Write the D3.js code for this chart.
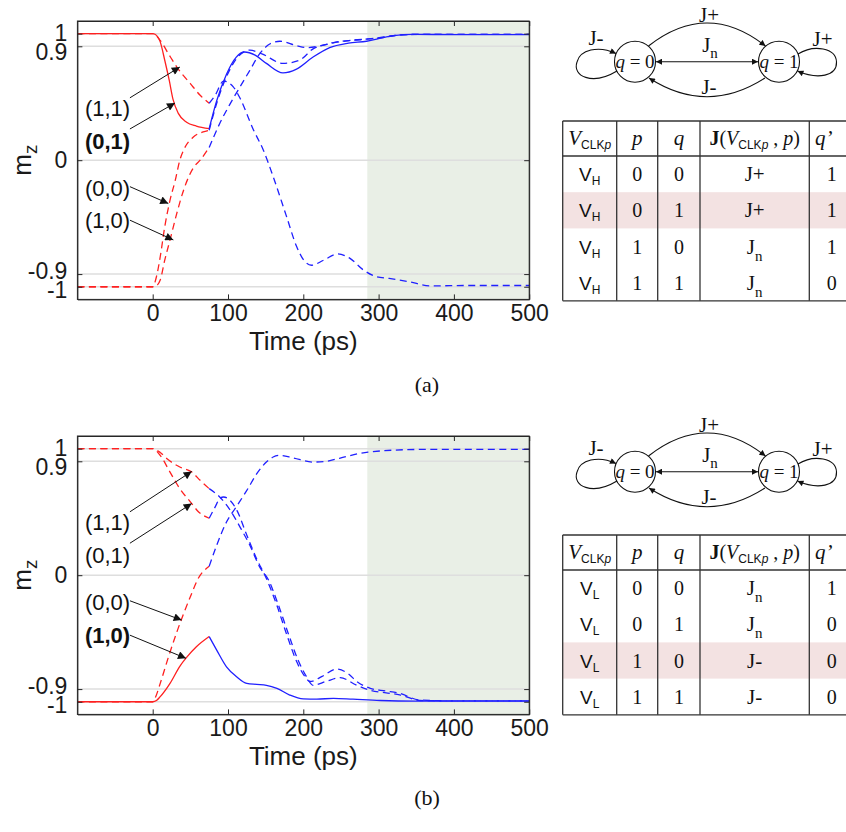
<!DOCTYPE html>
<html><head><meta charset="utf-8">
<script src="https://cdn.jsdelivr.net/npm/d3@7"></script>
<style>html,body{margin:0;padding:0;background:#fff}</style>
</head><body>
<svg id="fig" width="846" height="832"></svg>
<script>
// ---------------- DATA ----------------
const xTicks = [0, 100, 200, 300, 400, 500];
const yTicks = [-1, -0.9, 0, 0.9, 1];
const yTickLabels = ["-1", "-0.9", "0", "0.9", "1"];
const xDomain = [-100, 500];
const yDomain = [-1.1, 1.1];
const shadeStart = 285;

// Panel (a): [time ps, m_z]; red part before 75 ps, blue part after
const a01Red = [[-100,1],[0,1],[3,0.995],[10,0.935],[16,0.79],[22,0.63],[27,0.48],[34,0.37],[45,0.30],[58,0.27],[75,0.25]];
const a01Blue = [[75,0.25],[85,0.47],[98,0.68],[111,0.815],[122,0.855],[136,0.83],[151,0.765],[173,0.69],[191,0.72],[213,0.815],[235,0.89],[260,0.925],[284,0.94],[300,0.96],[320,0.984],[346,0.994],[400,0.993],[500,0.993]];
const a11Red = [[-100,1],[0,1],[10,0.947],[21,0.84],[32,0.736],[50,0.605],[63,0.513],[75,0.45]];
const a11Blue = [[75,0.45],[83,0.513],[94,0.625],[107,0.58],[116,0.49],[134,0.237],[147,0.079],[160,-0.13],[178,-0.45],[191,-0.68],[202,-0.80],[211,-0.83],[227,-0.79],[246,-0.74],[262,-0.776],[280,-0.868],[297,-0.92],[314,-0.934],[340,-0.96],[369,-0.993],[420,-0.99],[500,-0.99]];
const a00Red = [[-100,-1],[0,-1],[5,-0.92],[10,-0.763],[16,-0.526],[23,-0.316],[30,-0.158],[36,0],[41,0.079],[54,0.184],[67,0.223],[75,0.237]];
const a00Blue = [[75,0.237],[85,0.45],[98,0.66],[111,0.80],[129,0.87],[145,0.84],[173,0.765],[195,0.79],[213,0.88],[235,0.92],[260,0.945],[290,0.96],[330,0.99],[360,0.995],[500,0.995]];
const a10Red = [[-100,-1],[0,-1],[4,-0.995],[10,-0.947],[16,-0.79],[23,-0.63],[32,-0.42],[41,-0.237],[54,-0.06],[63,0.0],[75,0.10]];
const a10Blue = [[75,0.10],[89,0.29],[103,0.447],[116,0.58],[129,0.71],[142,0.84],[156,0.92],[169,0.94],[191,0.905],[205,0.89],[220,0.90],[240,0.93],[270,0.95],[300,0.965],[330,0.99],[360,0.995],[500,0.995]];

// Panel (b)
const b11Red = [[-100,1],[0,1],[10,0.97],[19,0.92],[36,0.855],[52,0.815],[63,0.75],[75,0.684]];
const b11Blue = [[75,0.684],[89,0.618],[103,0.513],[116,0.38],[129,0.237],[142,0.066],[154,-0.04],[166,-0.22],[180,-0.46],[193,-0.67],[204,-0.80],[213,-0.87],[230,-0.84],[249,-0.81],[271,-0.87],[289,-0.91],[310,-0.93],[328,-0.945],[355,-0.99],[400,-0.993],[500,-0.993]];
const b01Red = [[-100,1],[0,1],[10,0.947],[23,0.815],[36,0.684],[50,0.58],[61,0.50],[75,0.45]];
const b01Blue = [[75,0.45],[83,0.54],[89,0.605],[94,0.618],[103,0.59],[112,0.51],[125,0.316],[138,0.13],[151,-0.026],[165,-0.24],[178,-0.47],[191,-0.68],[202,-0.80],[209,-0.84],[225,-0.80],[244,-0.742],[260,-0.78],[271,-0.84],[289,-0.894],[310,-0.915],[328,-0.934],[355,-0.987],[400,-0.993],[500,-0.993]];
const b00Red = [[-100,-1],[0,-1],[4,-0.96],[10,-0.855],[21,-0.645],[32,-0.45],[40,-0.32],[50,-0.17],[61,-0.02],[75,0.07]];
const b00Blue = [[75,0.07],[85,0.237],[98,0.42],[111,0.54],[125,0.67],[138,0.80],[151,0.894],[160,0.934],[169,0.947],[187,0.926],[213,0.894],[231,0.90],[249,0.926],[286,0.973],[355,0.994],[400,0.995],[500,0.995]];
const b10Red = [[-100,-1],[0,-1],[5,-0.99],[10,-0.96],[23,-0.855],[36,-0.72],[45,-0.65],[58,-0.566],[75,-0.485]];
const b10Blue = [[75,-0.485],[85,-0.592],[98,-0.724],[111,-0.80],[125,-0.855],[138,-0.863],[151,-0.87],[165,-0.894],[182,-0.947],[200,-0.978],[218,-0.98],[240,-0.973],[266,-0.98],[302,-0.99],[350,-0.995],[500,-0.995]];

// annotation labels: text, bold, label level (m_z), arrow tip (t, m_z)
const labelsA = [
  {text:"(1,1)", bold:false, ly:0.414, tip:[36,0.736], tailDy:-10},
  {text:"(0,1)", bold:true,  ly:0.152, tip:[29.6,0.452], tailDy:-12},
  {text:"(0,0)", bold:false, ly:-0.217, tip:[20.7,-0.342], tailDy:-1},
  {text:"(1,0)", bold:false, ly:-0.474, tip:[27.4,-0.63], tailDy:0}
];
const labelsB = [
  {text:"(1,1)", bold:false, ly:0.422, tip:[51.8,0.82], tailDy:-10},
  {text:"(0,1)", bold:false, ly:0.158, tip:[51.8,0.566], tailDy:-12},
  {text:"(0,0)", bold:false, ly:-0.21, tip:[38.5,-0.355], tailDy:-1},
  {text:"(1,0)", bold:true,  ly:-0.474, tip:[44.2,-0.657], tailDy:0}
];

// truth tables
const tableP = [0, 0, 1, 1];
const tableQ = [0, 1, 0, 1];
const tableA_J = ["J+", "J+", "Jn", "Jn"];
const tableA_qn = [1, 1, 1, 0];
const tableB_J = ["Jn", "Jn", "J-", "J-"];
const tableB_qn = [1, 0, 0, 0];

// ---------------- DRAW ----------------
const svg = d3.select("#fig");
const RED = "#ff2020", BLUE = "#2020ff";
const SANS = "'Liberation Sans', Arial, Helvetica, sans-serif";
const SERIF = "'Liberation Serif', 'Times New Roman', serif";

const defs = svg.append("defs");
function mk(id, w, h) {
  defs.append("marker").attr("id", id).attr("viewBox", "0 0 10 10")
    .attr("refX", 10).attr("refY", 5).attr("markerUnits", "userSpaceOnUse")
    .attr("markerWidth", w).attr("markerHeight", h).attr("orient", "auto-start-reverse")
    .append("path").attr("d", "M0,0 L10,5 L0,10 z").attr("fill", "#111");
}
mk("ah", 7, 6);
mk("ah2", 11, 8);

const X0 = 77.4, X1 = 529.2;
const x = d3.scaleLinear().domain(xDomain).range([X0, X1]);
// vertical nudges of crowded y tick labels (px)
const yLabelNudge = new Map([[1, -1], [0.9, 6], [0, 0], [-0.9, -3], [-1, 3]]);

function drawPanel(top, bottom, series, labels, clipId) {
  const y = d3.scaleLinear().domain(yDomain).range([bottom, top]);
  const g = svg.append("g");
  defs.append("clipPath").attr("id", clipId).append("rect")
    .attr("x", X0).attr("y", top).attr("width", X1 - X0).attr("height", bottom - top);
  g.append("rect").attr("x", x(shadeStart)).attr("y", top)
    .attr("width", x(xDomain[1]) - x(shadeStart)).attr("height", bottom - top)
    .attr("fill", "#e9efe6");
  g.selectAll(".grid").data(yTicks).join("line")
    .attr("x1", X0).attr("x2", X1).attr("y1", d => y(d)).attr("y2", d => y(d))
    .attr("stroke", "#dedede").attr("stroke-width", 1.5);
  const line = d3.line().x(d => x(d[0])).y(d => y(d[1])).curve(d3.curveMonotoneX);
  const cg = g.append("g").attr("clip-path", `url(#${clipId})`);
  series.forEach(s => {
    [[s.red, RED], [s.blue, BLUE]].forEach(([pts, col]) => {
      cg.append("path").attr("d", line(pts)).attr("fill", "none")
        .attr("stroke", col).attr("stroke-width", 1.3)
        .attr("stroke-dasharray", s.dashed ? "7,4.5" : null);
    });
  });
  const fmtY = d => yTickLabels[yTicks.indexOf(d)];
  const ax = [
    svg.append("g").attr("transform", `translate(0,${bottom})`)
      .call(d3.axisBottom(x).tickValues(xTicks).tickSize(-5).tickSizeOuter(0).tickPadding(5)),
    svg.append("g").attr("transform", `translate(0,${top})`)
      .call(d3.axisTop(x).tickValues(xTicks).tickSize(-5).tickSizeOuter(0).tickFormat("")),
    svg.append("g").attr("transform", `translate(${X0},0)`)
      .call(d3.axisLeft(y).tickValues(yTicks).tickSize(-5).tickSizeOuter(0).tickPadding(10).tickFormat(fmtY)),
    svg.append("g").attr("transform", `translate(${X1},0)`)
      .call(d3.axisRight(y).tickValues(yTicks).tickSize(-5).tickSizeOuter(0).tickFormat(""))
  ];
  ax.forEach(a => {
    a.select(".domain").attr("stroke", "#262626");
    a.selectAll(".tick line").attr("stroke", "#262626");
    a.selectAll("text").attr("font-family", SANS).attr("font-size", 23).attr("fill", "#1a1a1a");
  });
  ax[2].selectAll(".tick text").attr("y", d => yLabelNudge.get(d) || 0);
  g.append("rect").attr("x", X0).attr("y", top).attr("width", X1 - X0).attr("height", bottom - top)
    .attr("fill", "none").attr("stroke", "#262626").attr("stroke-width", 1);
  svg.append("text").attr("x", (X0 + X1) / 2).attr("y", bottom + 51)
    .attr("text-anchor", "middle").attr("font-family", SANS).attr("font-size", 26)
    .attr("fill", "#1a1a1a").text("Time (ps)");
  const yl = svg.append("text").attr("transform", `translate(31,${y(0)}) rotate(-90)`)
    .attr("text-anchor", "middle").attr("font-family", SANS).attr("font-size", 26).attr("fill", "#1a1a1a");
  yl.append("tspan").text("m");
  yl.append("tspan").attr("font-size", 19).attr("dy", 6).text("z");
  labels.forEach(l => {
    const tx = x(-90), ty = y(l.ly);
    svg.append("text").attr("x", tx).attr("y", ty + 8).attr("font-family", SANS)
      .attr("font-size", 22).attr("font-weight", l.bold ? "bold" : "normal")
      .attr("fill", "#111").text(l.text);
    svg.append("line").attr("x1", tx + 45).attr("y1", ty + l.tailDy)
      .attr("x2", x(l.tip[0])).attr("y2", y(l.tip[1]))
      .attr("stroke", "#111").attr("stroke-width", 1).attr("marker-end", "url(#ah2)");
  });
}

drawPanel(21, 299.4, [
  {red:a01Red, blue:a01Blue, dashed:false},
  {red:a11Red, blue:a11Blue, dashed:true},
  {red:a00Red, blue:a00Blue, dashed:true},
  {red:a10Red, blue:a10Blue, dashed:true}
], labelsA, "clipA");
drawPanel(436, 714.4, [
  {red:b11Red, blue:b11Blue, dashed:true},
  {red:b01Red, blue:b01Blue, dashed:true},
  {red:b00Red, blue:b00Blue, dashed:true},
  {red:b10Red, blue:b10Blue, dashed:false}
], labelsB, "clipB");

// captions
svg.append("text").attr("x", 427).attr("y", 392).attr("text-anchor", "middle")
  .attr("font-family", SERIF).attr("font-size", 22).attr("fill", "#111").text("(a)");
svg.append("text").attr("x", 427).attr("y", 805).attr("text-anchor", "middle")
  .attr("font-family", SERIF).attr("font-size", 22).attr("fill", "#111").text("(b)");

// ---------------- STATE DIAGRAMS ----------------
function drawDiagram(oy) {
  const g = svg.append("g").attr("transform", `translate(0,${oy})`);
  const st = (p) => p.attr("fill", "none").attr("stroke", "#111").attr("stroke-width", 1.1);
  st(g.append("path").attr("d", "M648.5,46 Q707,0 765.5,46")).attr("marker-end", "url(#ah)");
  st(g.append("path").attr("d", "M765,78 Q707,115.4 649,78")).attr("marker-end", "url(#ah)");
  st(g.append("line").attr("x1", 656).attr("y1", 61.7).attr("x2", 758).attr("y2", 61.7))
    .attr("marker-start", "url(#ah)").attr("marker-end", "url(#ah)");
  st(g.append("path").attr("d", "M617,71 C592,86 572,76 577,62 C580,50 598,45 616,53.5")).attr("marker-end", "url(#ah)");
  st(g.append("path").attr("d", "M798,54 C814,44 836,48 836.5,62 C837,76 818,80 797.5,71")).attr("marker-end", "url(#ah)");
  [[635, "0"], [779, "1"]].forEach(([cx, v]) => {
    g.append("circle").attr("cx", cx).attr("cy", 61.7).attr("r", 20.5)
      .attr("fill", "none").attr("stroke", "#111").attr("stroke-width", 1.1);
    const t = g.append("text").attr("x", cx).attr("y", 68).attr("text-anchor", "middle")
      .attr("font-family", SERIF).attr("font-size", 19).attr("fill", "#111");
    t.append("tspan").attr("font-style", "italic").text("q");
    t.append("tspan").text(" = " + v);
  });
  const lab = (tx, ty, s, sub) => {
    const t = g.append("text").attr("x", tx).attr("y", ty).attr("text-anchor", "middle")
      .attr("font-family", SERIF).attr("font-size", 21).attr("fill", "#111");
    t.append("tspan").text(s);
    if (sub) t.append("tspan").attr("font-size", 15).attr("dy", 6).text(sub);
  };
  lab(709, 22, "J+");
  lab(710, 52, "J", "n");
  lab(709, 94, "J-");
  lab(596, 45, "J-");
  lab(822.5, 46, "J+");
}
drawDiagram(0);
drawDiagram(410);

// ---------------- TABLES ----------------
function drawTable(oy, sub, Jcol, qn, pink) {
  const g = svg.append("g").attr("transform", `translate(0,${oy})`);
  const cols = [562.7, 616.7, 657.7, 700, 809.3];
  const top = 121, hb = 156, rh = 36.2, bottom = hb + 4 * rh;
  g.append("rect").attr("x", cols[0]).attr("y", hb + pink * rh).attr("width", 846 - cols[0]).attr("height", rh)
    .attr("fill", "#f3e2e2");
  const ln = (x1, y1, x2, y2) => g.append("line").attr("x1", x1).attr("y1", y1).attr("x2", x2).attr("y2", y2)
    .attr("stroke", "#333").attr("stroke-width", 1.3);
  ln(cols[0], top, 846, top); ln(cols[0], hb, 846, hb); ln(cols[0], bottom, 846, bottom);
  cols.forEach(c => ln(c, top, c, bottom));
  const cx = [589.7, 637.2, 678.9, 754.7, 831.7];
  const hy = 145;
  let t = g.append("text").attr("x", cx[0]).attr("y", hy).attr("text-anchor", "middle").attr("fill", "#111");
  t.append("tspan").attr("font-family", SERIF).attr("font-style", "italic").attr("font-size", 21).text("V");
  t.append("tspan").attr("font-family", SANS).attr("font-size", 12).attr("dy", 4).text("CLK");
  t.append("tspan").attr("font-family", SANS).attr("font-style", "italic").attr("font-size", 12).text("p");
  ["p", "q"].forEach((s, i) => g.append("text").attr("x", cx[i + 1]).attr("y", hy).attr("text-anchor", "middle")
    .attr("font-family", SERIF).attr("font-style", "italic").attr("font-size", 21).attr("fill", "#111").text(s));
  t = g.append("text").attr("x", cx[3]).attr("y", hy).attr("text-anchor", "middle").attr("fill", "#111")
    .attr("font-family", SERIF).attr("font-size", 20);
  t.append("tspan").attr("font-weight", "bold").text("J");
  t.append("tspan").text("(");
  t.append("tspan").attr("font-style", "italic").text("V");
  t.append("tspan").attr("font-family", SANS).attr("font-size", 12).attr("dy", 4).text("CLK");
  t.append("tspan").attr("font-family", SANS).attr("font-style", "italic").attr("font-size", 12).text("p");
  t.append("tspan").attr("dy", -4).text(" , ");
  t.append("tspan").attr("font-style", "italic").text("p");
  t.append("tspan").text(")");
  g.append("text").attr("x", 815).attr("y", hy).attr("font-family", SERIF).attr("font-style", "italic")
    .attr("font-size", 21).attr("fill", "#111").text("q\u2019");
  for (let i = 0; i < 4; i++) {
    const by = hb + (i + 0.5) * rh + 7;
    const tv = g.append("text").attr("x", cx[0]).attr("y", by).attr("text-anchor", "middle")
      .attr("font-family", SANS).attr("fill", "#111");
    tv.append("tspan").attr("font-size", 19).text("V");
    tv.append("tspan").attr("font-size", 12).attr("dy", 4).text(sub);
    [tableP[i], tableQ[i]].forEach((v, k) => g.append("text").attr("x", cx[k + 1]).attr("y", by)
      .attr("text-anchor", "middle").attr("font-family", SERIF).attr("font-size", 20).attr("fill", "#111").text(v));
    const tj = g.append("text").attr("x", cx[3]).attr("y", by).attr("text-anchor", "middle")
      .attr("font-family", SERIF).attr("font-size", 21).attr("fill", "#111");
    if (Jcol[i] === "Jn") {
      tj.append("tspan").text("J");
      tj.append("tspan").attr("font-size", 15).attr("dy", 7).text("n");
    } else tj.text(Jcol[i]);
    g.append("text").attr("x", cx[4]).attr("y", by).attr("text-anchor", "middle")
      .attr("font-family", SERIF).attr("font-size", 20).attr("fill", "#111").text(qn[i]);
  }
}
drawTable(0, "H", tableA_J, tableA_qn, 1);
drawTable(414, "L", tableB_J, tableB_qn, 2);
</script>
</body></html>
